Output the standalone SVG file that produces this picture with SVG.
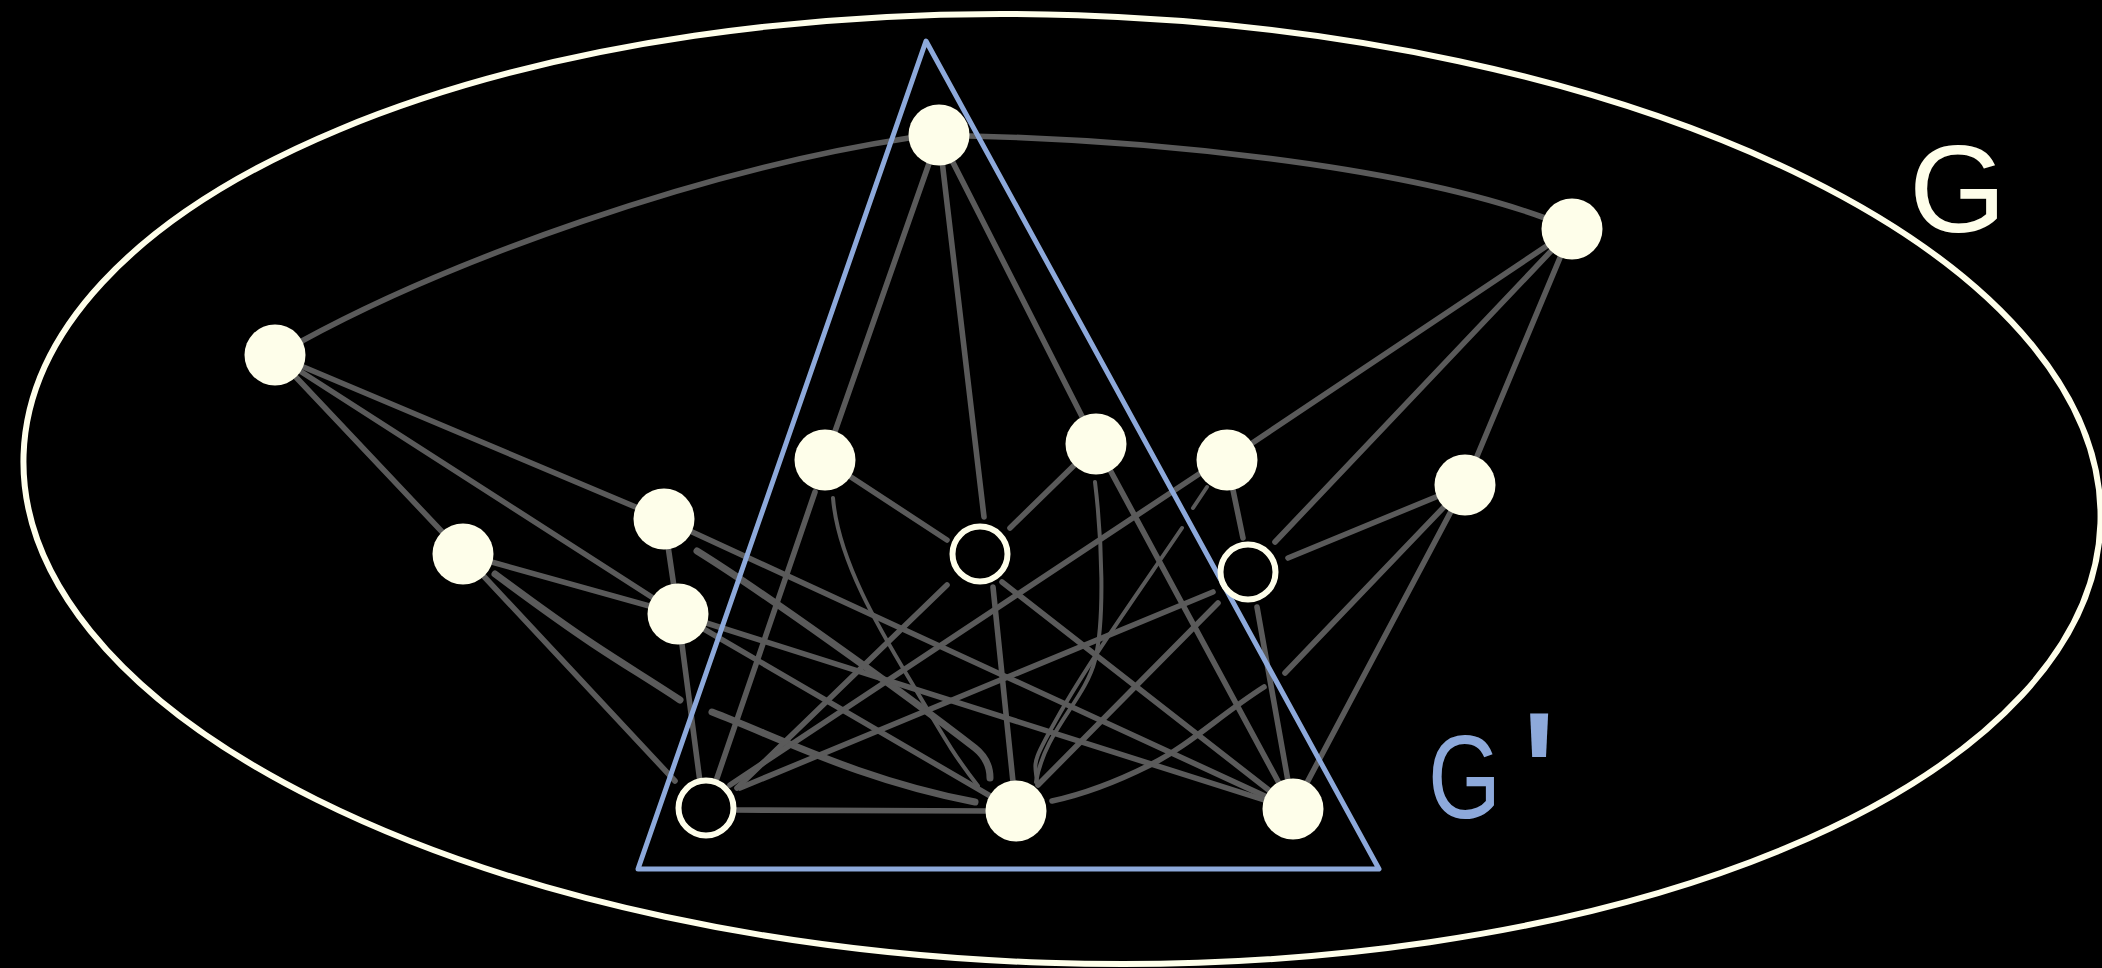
<svg xmlns="http://www.w3.org/2000/svg" width="2102" height="968" viewBox="0 0 2102 968">
<style>
.e{fill:none;stroke:#5a5a5a;stroke-width:5.6;stroke-linecap:round;stroke-linejoin:round}
.thin{stroke-width:4}
.thick{stroke-width:7}
.n{fill:#FEFEEA}
.h{fill:#000;stroke:#FEFEEA;stroke-width:6}
.lbl{font-family:"Liberation Sans",Arial,sans-serif}
</style>
<rect width="2102" height="968" fill="#000"/>
<ellipse id="G-set" cx="1062" cy="489" rx="1039" ry="474" transform="rotate(1.9 1062 489)" fill="none" stroke="#FEFEEA" stroke-width="6"/>
<g id="connectors">
<path class="e" d="M300 342 C450 260,700 170,909 138"/>
<path class="e" d="M969 136 C1150 140,1400 165,1545 218"/>
<line class="e" x1="275" y1="355" x2="463" y2="554"/>
<line class="e" x1="275" y1="355" x2="664" y2="519"/>
<line class="e" x1="275" y1="355" x2="678" y2="614"/>
<line class="e" x1="463" y1="554" x2="678" y2="614"/>
<line class="e" x1="463" y1="554" x2="675" y2="781"/>
<path class="e thick" d="M495 574 C530 600,560 622,593 644 S650 680,680 700"/>
<path class="e thick" d="M712 712 C780 738,860 780,975 802"/>
<line class="e" x1="664" y1="519" x2="678" y2="614"/>
<line class="e" x1="664" y1="519" x2="1293" y2="809"/>
<path class="e thick" d="M697 551 C760 590,900 690,975 748 Q990 760 990 778"/>
<line class="e" x1="678" y1="614" x2="700" y2="782"/>
<line class="e" x1="678" y1="614" x2="1016" y2="811"/>
<line class="e" x1="678" y1="614" x2="1293" y2="809"/>
<line class="e" x1="939" y1="135" x2="825" y2="460"/>
<line class="e" x1="939" y1="135" x2="984" y2="517"/>
<line class="e" x1="939" y1="135" x2="1096" y2="444"/>
<line class="e" x1="815" y1="492" x2="717" y2="778"/>
<line class="e" x1="825" y1="460" x2="947" y2="540"/>
<path class="e thin" d="M833 498 C838 560,880 630,910 680 S950 750,978 786"/>
<line class="e" x1="1010" y1="528" x2="1096" y2="444"/>
<line class="e" x1="1002" y1="582" x2="1293" y2="809"/>
<line class="e" x1="993" y1="587" x2="1016" y2="811"/>
<line class="e" x1="737" y1="788" x2="947" y2="585"/>
<line class="e" x1="730" y1="785" x2="1199" y2="474"/>
<line class="e" x1="740" y1="788" x2="1213" y2="592"/>
<line class="e" x1="737" y1="810" x2="990" y2="811"/>
<line class="e" x1="1096" y1="444" x2="1293" y2="809"/>
<path class="e thin" d="M1095 482 C1102 540,1105 620,1095 660 S1045 730,1036 782"/>
<line class="e thin" x1="1193" y1="508" x2="1207" y2="487"/>
<path class="e thin" d="M1182 528 C1140 590,1090 660,1060 713 S1035 760,1037 782"/>
<line class="e" x1="1233" y1="490" x2="1243" y2="538"/>
<line class="e" x1="1572" y1="229" x2="1227" y2="460"/>
<line class="e" x1="1218" y1="603" x2="1038" y2="785"/>
<line class="e" x1="1257" y1="607" x2="1293" y2="809"/>
<line class="e" x1="1572" y1="229" x2="1275" y2="542"/>
<line class="e" x1="1465" y1="485" x2="1288" y2="558"/>
<line class="e" x1="1572" y1="229" x2="1465" y2="485"/>
<line class="e" x1="1465" y1="485" x2="1285" y2="673"/>
<path class="e" d="M1264 687 C1220 715,1190 745,1150 765 S1080 795,1052 801"/>
<line class="e" x1="1465" y1="485" x2="1293" y2="809"/>
</g>
<polygon id="G-prime-set" points="926,41 1379,869 638,869" fill="none" stroke="#8DA9DB" stroke-width="5" stroke-linejoin="round"/>
<g id="node-A"><circle class="n" cx="275" cy="355" r="30.5"/></g>
<g id="node-B"><circle class="n" cx="939" cy="135" r="30.5"/></g>
<g id="node-C"><circle class="n" cx="1572" cy="229" r="30.5"/></g>
<g id="node-D"><circle class="n" cx="463" cy="554" r="30.5"/></g>
<g id="node-E"><circle class="n" cx="664" cy="519" r="30.5"/></g>
<g id="node-F"><circle class="n" cx="678" cy="614" r="30.5"/></g>
<g id="node-H"><circle class="n" cx="825" cy="460" r="30.5"/></g>
<g id="node-I"><circle class="n" cx="1096" cy="444" r="30.5"/></g>
<g id="node-J"><circle class="n" cx="1227" cy="460" r="30.5"/></g>
<g id="node-K"><circle class="n" cx="1465" cy="485" r="30.5"/></g>
<g id="node-L"><circle class="h" cx="980" cy="554" r="27.5"/></g>
<g id="node-M"><circle class="h" cx="1248" cy="572" r="27.5"/></g>
<g id="node-N"><circle class="h" cx="706" cy="808" r="27.5"/></g>
<g id="node-O"><circle class="n" cx="1016" cy="811" r="30.5"/></g>
<g id="node-P"><circle class="n" cx="1293" cy="809" r="30.5"/></g>
<g id="label-G"><text class="lbl" x="1909" y="232" font-size="125" fill="#FEFEEA">G</text></g>
<g id="label-Gprime"><text class="lbl" fill="#8DA9DB" font-size="118"><tspan x="1428" y="818" textLength="73" lengthAdjust="spacingAndGlyphs">G</tspan><tspan x="1520" y="852" font-size="200">'</tspan></text></g>
</svg>
